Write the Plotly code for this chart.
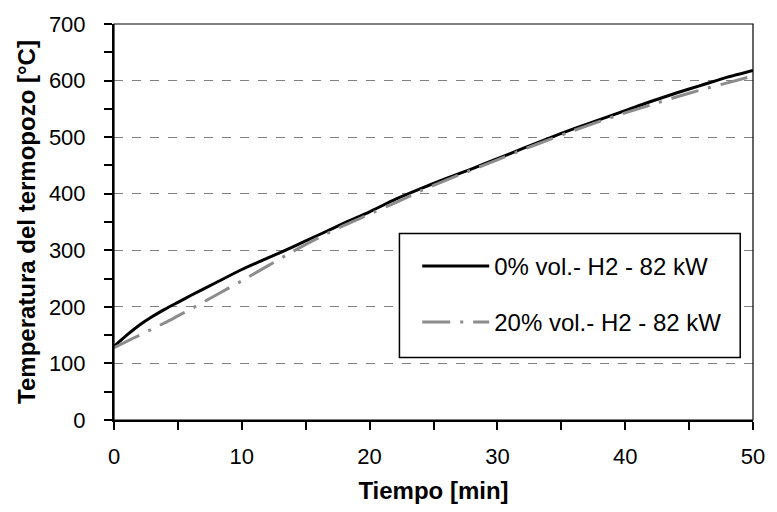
import plotly.graph_objects as go

tiempo = [0, 1, 2, 3, 4, 5, 6, 8, 10, 12, 14, 16, 18, 20, 22, 24, 26, 28, 30,
          32, 34, 36, 38, 40, 42, 44, 46, 48, 50]
temp_0 = [130, 150, 168, 183, 196, 208, 220, 243, 266, 286, 306, 327, 348, 368,
          390, 409, 427, 444, 462, 480, 498, 515, 531, 547, 563, 578, 592, 606, 618]
temp_20 = [128, 139, 150, 161, 172, 184, 196, 221, 246, 272, 298, 322, 344, 364,
           384, 405, 424, 442, 460, 478, 495, 512, 528, 543, 557, 571, 584, 596, 608]
name_0 = "0% vol.- H2 - 82 kW"
name_20 = "20% vol.- H2 - 82 kW"

FONT = "Liberation Sans, Arial, sans-serif"

fig = go.Figure()
fig.add_trace(go.Scatter(x=tiempo, y=temp_0, mode="lines", name=name_0,
                         legendgroup="a", line_shape="spline",
                         line=dict(color="black", width=3, smoothing=0.6)))
fig.add_trace(go.Scatter(x=tiempo, y=temp_20, mode="lines", name=name_20,
                         legendgroup="b", line_shape="spline",
                         line=dict(color="#8c8c8c", width=3, smoothing=0.6,
                                   dash="28px,10px,3px,10px")))

fig.update_layout(
    width=777, height=512,
    margin=dict(l=114, r=16, t=21, b=92),
    paper_bgcolor="white", plot_bgcolor="white",
    font=dict(family=FONT, size=22, color="black"),
    showlegend=True,
    legend=dict(x=0.4745, y=0.445, xanchor="left", yanchor="top",
                bgcolor="rgba(0,0,0,0)", borderwidth=0,
                font=dict(size=24), itemwidth=67, tracegroupgap=22,
                traceorder="grouped"),
    xaxis=dict(range=[0, 50], dtick=10, showgrid=False, zeroline=False,
               showline=True, linecolor="black", linewidth=2,
               ticks="outside", ticklen=8, tickwidth=2, tickcolor="black",
               ticklabelstandoff=8,
               minor=dict(dtick=5, ticks="outside", ticklen=8, tickwidth=2,
                          tickcolor="black", showgrid=False),
               title=dict(text="<b>Tiempo [min]</b>",
                          font=dict(size=24), standoff=14)),
    yaxis=dict(range=[0, 700], dtick=100, showgrid=True, gridcolor="#808080",
               griddash="dash", gridwidth=1, zeroline=False,
               showline=True, linecolor="black", linewidth=2,
               ticks="outside", ticklen=8, tickwidth=2, tickcolor="black",
               ticklabelstandoff=14,
               minor=dict(dtick=50, ticks="outside", ticklen=8, tickwidth=2,
                          tickcolor="black", showgrid=False),
               title=dict(text="<b>Temperatura del termopozo [°C]</b>",
                          font=dict(size=24), standoff=6)),
)
fig.add_shape(type="rect", xref="paper", yref="paper", x0=0, y0=0, x1=1, y1=1,
              line=dict(color="black", width=1.2), layer="above")
fig.add_shape(type="rect", xref="paper", yref="paper",
              x0=0.4467, x1=0.980, y0=0.158, y1=0.4712,
              fillcolor="white", line=dict(color="black", width=1.5),
              layer="above")

fig.write_html("out.html")
